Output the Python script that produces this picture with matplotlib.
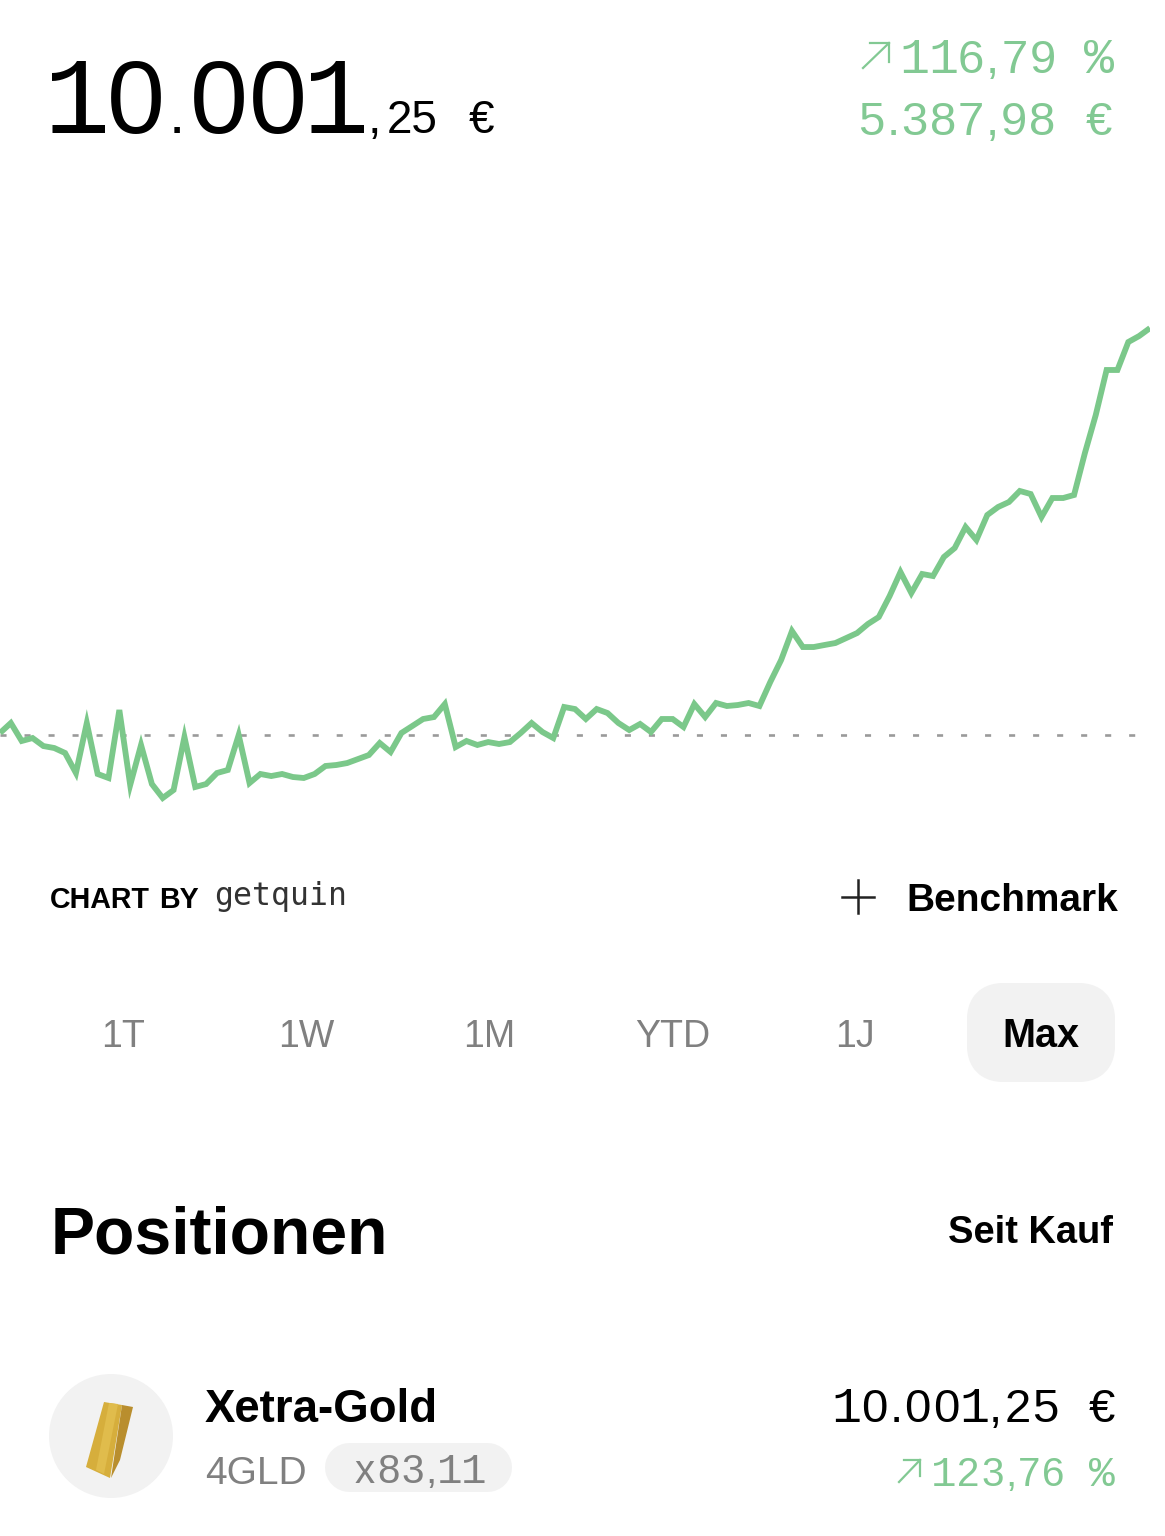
import numpy as np
import matplotlib
matplotlib.use("Agg")
import matplotlib.pyplot as plt
from matplotlib.patches import Circle, FancyBboxPatch, Polygon

# portfolio value per step
values = [
    4640, 4772, 4534, 4573, 4467, 4441, 4375, 4110, 4772, 4097,
    4044, 4944, 3951, 4481, 3964, 3779, 3885, 4587, 3925, 3964,
    4110, 4150, 4613, 3977, 4097, 4070, 4097, 4057, 4044, 4097,
    4203, 4216, 4242, 4295, 4348, 4507, 4388, 4640, 4732, 4825,
    4851, 5023, 4454, 4534, 4481, 4520, 4494, 4520, 4640, 4772,
    4653, 4573, 4984, 4957, 4825, 4957, 4904, 4772, 4679, 4759,
    4653, 4825, 4825, 4719, 5023, 4851, 5037, 4997, 5010, 5037,
    4997, 5315, 5606, 5990, 5778, 5778, 5805, 5831, 5897, 5963,
    6083, 6175, 6453, 6771, 6493, 6745, 6718, 6970, 7089, 7367,
    7195, 7526, 7632, 7698, 7844, 7804, 7499, 7751, 7751, 7791,
    8347, 8850, 9446, 9446, 9816, 9896, 10001,
]
baseline = 4613.27

tabs = ["1T", "1W", "1M", "YTD", "1J"]
tab_centers = [123, 306, 489, 673, 855]

GREEN = "#7BC88A"
LIGHT_GREEN = "#82C993"
GRAY = "#808080"
PANEL = "#F2F2F2"
SANS = "Liberation Sans"
MONO = "Liberation Mono"

W, H = 1165, 1536
fig = plt.figure(figsize=(W / 100, H / 100), dpi=100, facecolor="white")

# overlay in pixel coords for all the app furniture
ui = fig.add_axes([0, 0, 1, 1])
ui.set_xlim(0, W)
ui.set_ylim(H, 0)
ui.axis("off")

# chart, y scale picked so the baseline lands at px 735
px_val = 13.24
chart = fig.add_axes([0, 1 - 820 / H, 1150 / W, 520 / H])
chart.patch.set_alpha(0)
chart.set_xlim(0, len(values) - 1)
chart.set_ylim(baseline - 85 * px_val, baseline + 435 * px_val)
chart.axis("off")
chart.axhline(baseline, color="#9A9A9A", lw=1.9,
              linestyle=(0, (2.3, 6.8)), zorder=1)
chart.plot(np.arange(len(values)), values, color=GREEN, lw=4.2,
           solid_joinstyle="miter", solid_capstyle="butt", zorder=2)


def label(x, y, s, size, family=SANS, color="black", weight="normal", ha="left"):
    ui.text(x, y, s, fontsize=size, family=family, color=color, weight=weight,
            ha=ha, va="baseline")


def figures(x_right, y, s, size, adv, color="black", punct=0.53, punct_size=None):
    # the app font: fixed digit slots, narrow punctuation. sans digits,
    # only the footed 1 and the % come from the mono face
    slots = [punct * adv if c in ",." else adv for c in s]
    x = x_right - sum(slots)
    for c, w in zip(s, slots):
        if c in "1%":
            ui.text(x + w / 2, y, c, fontsize=size * 1.06, family=MONO, color=color,
                    ha="center", va="baseline")
        elif c in ",." and punct_size:
            ui.text(x + w / 2, y, c, fontsize=punct_size, family=SANS, color=color,
                    ha="center", va="baseline")
        elif c != " ":
            ui.text(x + w / 2, y, c, fontsize=size, family=SANS, color=color,
                    ha="center", va="baseline")
        x += w


def arrow(x0, y0, x1, y1, head):
    ui.plot([x0, x1], [y0, y1], color=LIGHT_GREEN, lw=1.6)
    ui.plot([x1 - head, x1, x1], [y1, y1, y1 + head], color=LIGHT_GREEN, lw=1.6,
            solid_joinstyle="miter")


# header
figures(366, 133, "10.001", 75, 59, punct=0.4, punct_size=42)
label(368, 133, ",", 35)
label(387, 133, "25", 33)
label(469, 133, "€", 33)
figures(1113, 73, "116,79 %", 34, 28.2, color=LIGHT_GREEN)
figures(1113, 135, "5.387,98 €", 34, 28.2, color=LIGHT_GREEN)
arrow(863, 68, 889, 43, 19)

# chart footer
label(50, 908, "CHART", 20.6, weight="bold")
label(159, 908, "BY", 20.6, weight="bold")
label(214, 905, "getquin", 22.7, family="DejaVu Sans Mono", color="#333333")
ui.plot([842, 874], [897, 897], color="#222222", lw=1.8)
ui.plot([858, 858], [880, 913], color="#222222", lw=1.8)
label(906, 911, "Benchmark", 28, weight="bold")

# range selector
ui.add_patch(FancyBboxPatch((985, 1001), 112, 63, boxstyle="round,pad=0,rounding_size=1",
                            mutation_scale=18, fc=PANEL, ec=PANEL, lw=36 * 0.72,
                            joinstyle="round"))
for name, xc in zip(tabs, tab_centers):
    label(xc, 1047, name, 27, color=GRAY, ha="center")
label(1041, 1047, "Max", 28.5, weight="bold", ha="center")

# positions
label(51, 1253, "Positionen", 47.5, weight="bold")
label(1113, 1243, "Seit Kauf", 27.4, weight="bold", ha="right")

ui.add_patch(Circle((111, 1436), 62, fc=PANEL, ec="none"))
ui.add_patch(Polygon([(104, 1402), (122, 1405), (110, 1478), (86, 1467)], fc="#D6AE3C", ec="none"))
ui.add_patch(Polygon([(109, 1403), (118, 1404), (104, 1474), (96, 1470)], fc="#E0BC4C", ec="none"))
ui.add_patch(Polygon([(122, 1405), (133, 1407), (120, 1460), (111, 1478)], fc="#B98E2E", ec="none"))

label(205, 1422, "Xetra-Gold", 32.9, weight="bold")
label(205, 1484, "4GLD", 28, color=GRAY)
ui.add_patch(FancyBboxPatch((349, 1467), 139, 1, boxstyle="round,pad=0,rounding_size=0.5",
                            mutation_scale=1, fc=PANEL, ec=PANEL, lw=48 * 0.72,
                            capstyle="round", joinstyle="round"))
figures(486, 1483, "x83,11", 29, 24.1, color=GRAY)
figures(1116, 1422, "10.001,25 €", 34, 28.2)
figures(1114, 1486, "123,76 %", 29, 24.2, color=LIGHT_GREEN)
arrow(899, 1482, 920, 1460, 16)

fig.savefig("out.png", dpi=100)
